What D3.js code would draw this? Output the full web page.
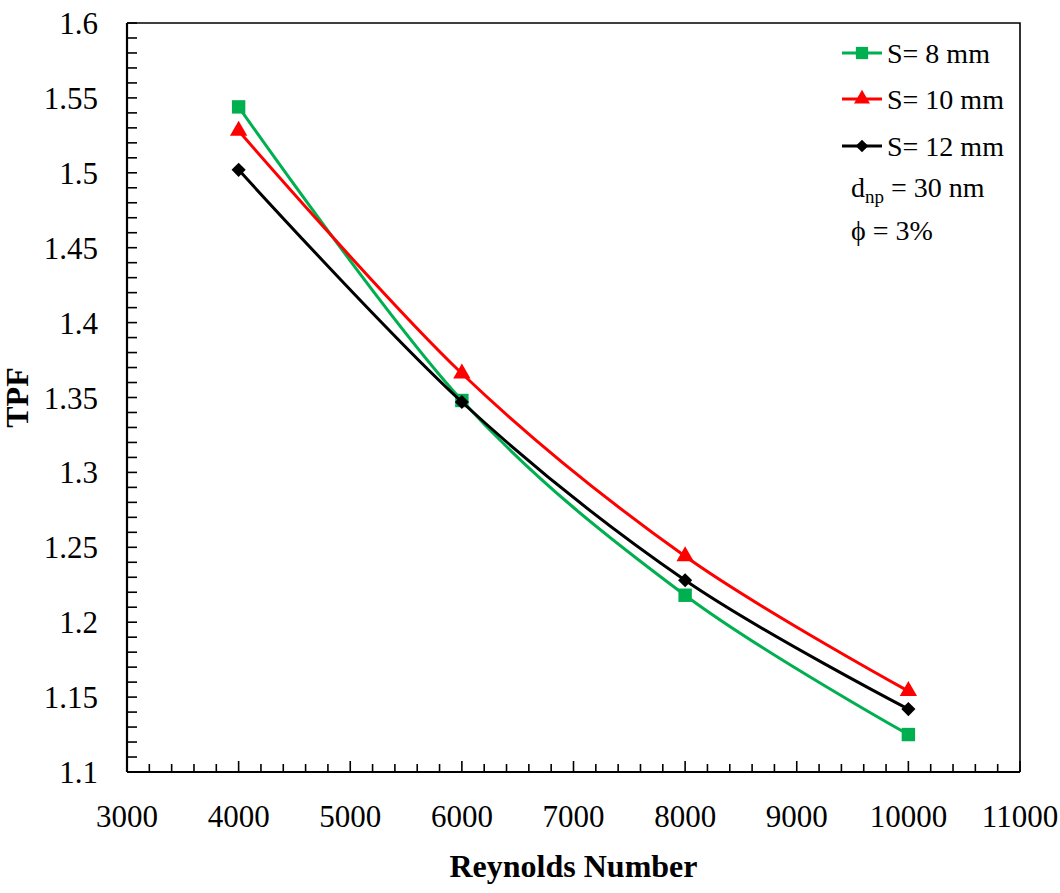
<html>
<meta charset="UTF-8">
<head>
    <title>TPF vs Reynolds</title>
    <style>
        body { margin: 0; background: #fff; }
        text { font-family: "Liberation Serif", "Times New Roman", serif; fill: #000; }
    </style>
</head>
<body>
<script src="https://d3js.org/d3.v7.min.js"></script>
<script>
    // data
    let reynolds = [4000, 6000, 8000, 10000]
    let tpf_s8 = [1.544, 1.348, 1.218, 1.125]
    let tpf_s10 = [1.528, 1.366, 1.244, 1.154]
    let tpf_s12 = [1.502, 1.347, 1.228, 1.142]
    let series_names = ["S= 8 mm", "S= 10 mm", "S= 12 mm"]
    let series_colors = ["#00B050", "#FF0000", "#000000"]
    let series_symbols = [d3.symbolSquare, d3.symbolTriangle, d3.symbolSquare]
    let series_rotate = [0, 0, 45]
    let x_ticks = [3000, 4000, 5000, 6000, 7000, 8000, 9000, 10000, 11000]
    let y_ticks = [1.1, 1.15, 1.2, 1.25, 1.3, 1.35, 1.4, 1.45, 1.5, 1.55, 1.6]

    let W = 1060, H = 893
    let plot_left = 127, plot_right = 1020, plot_top = 23, plot_bottom = 772

    let svg = d3.select("body").append("svg")
        .attr("width", W)
        .attr("height", H)

    let x = d3.scaleLinear().domain([3000, 11000]).range([plot_left, plot_right])
    let y = d3.scaleLinear().domain([1.1, 1.6]).range([plot_bottom, plot_top])

    // frame (top + right)
    svg.append("path")
        .attr("d", "M" + plot_left + "," + plot_top + "H" + plot_right + "V" + plot_bottom)
        .attr("fill", "none")
        .attr("stroke", "#000")
        .attr("stroke-width", 1.6)

    // x axis: minor ticks every 200, major every 1000, pointing inward
    let x_minor = d3.range(3000, 11001, 200)
    svg.append("g").selectAll("line")
        .data(x_minor).enter()
        .append("line")
        .attr("x1", d => x(d)).attr("x2", d => x(d))
        .attr("y1", plot_bottom)
        .attr("y2", d => plot_bottom - (d % 1000 === 0 ? 11 : 8))
        .attr("stroke", "#000").attr("stroke-width", 1.6)

    svg.append("line")
        .attr("x1", plot_left).attr("x2", plot_right)
        .attr("y1", plot_bottom).attr("y2", plot_bottom)
        .attr("stroke", "#000").attr("stroke-width", 2.2)

    svg.append("g").selectAll("text")
        .data(x_ticks).enter()
        .append("text")
        .attr("x", d => x(d))
        .attr("y", 827)
        .attr("text-anchor", "middle")
        .attr("font-size", 31)
        .text(d => d)

    // y axis: minor ticks every 0.01
    let y_minor = d3.range(0, 51).map(i => 1.1 + i * 0.01)
    svg.append("g").selectAll("line")
        .data(y_minor).enter()
        .append("line")
        .attr("x1", plot_left).attr("x2", plot_left + 10)
        .attr("y1", d => y(d)).attr("y2", d => y(d))
        .attr("stroke", "#000").attr("stroke-width", 1.6)

    svg.append("line")
        .attr("x1", plot_left).attr("x2", plot_left)
        .attr("y1", plot_top).attr("y2", plot_bottom)
        .attr("stroke", "#000").attr("stroke-width", 2.2)

    svg.append("g").selectAll("text")
        .data(y_ticks).enter()
        .append("text")
        .attr("x", 98)
        .attr("y", d => y(d) + 11)
        .attr("text-anchor", "end")
        .attr("font-size", 31)
        .text(d => String(+d.toFixed(2)))

    // axis titles
    svg.append("text")
        .attr("x", (plot_left + plot_right) / 2)
        .attr("y", 877)
        .attr("text-anchor", "middle")
        .attr("font-size", 32)
        .attr("font-weight", "bold")
        .text("Reynolds Number")

    svg.append("text")
        .attr("transform", "translate(28," + (plot_top + plot_bottom) / 2 + ") rotate(-90)")
        .attr("text-anchor", "middle")
        .attr("font-size", 32)
        .attr("font-weight", "bold")
        .text("TPF")

    // series
    let all_series = [tpf_s8, tpf_s10, tpf_s12]
    let marker_size = [180, 130, 100]
    let line = d3.line()
        .x(d => x(d[0]))
        .y(d => y(d[1]))
        .curve(d3.curveCatmullRom.alpha(0))

    all_series.forEach((vals, idx) => {
        let pts = reynolds.map((r, i) => [r, vals[i]])
        svg.append("path")
            .attr("d", line(pts))
            .attr("fill", "none")
            .attr("stroke", series_colors[idx])
            .attr("stroke-width", 3)

        let sym = d3.symbol().type(series_symbols[idx]).size(marker_size[idx])
        svg.append("g").selectAll("path")
            .data(pts).enter()
            .append("path")
            .attr("d", sym)
            .attr("transform", d => "translate(" + x(d[0]) + "," + y(d[1]) + ") rotate(" + series_rotate[idx] + ")")
            .attr("fill", series_colors[idx])
    })

    // legend
    let legend_rows = [53, 99, 146]
    let legend_marker = [150, 110, 80]
    let legend = svg.append("g")
    series_names.forEach((name, idx) => {
        let ly = legend_rows[idx]
        legend.append("line")
            .attr("x1", 842).attr("x2", 882)
            .attr("y1", ly).attr("y2", ly)
            .attr("stroke", series_colors[idx])
            .attr("stroke-width", 3)
        legend.append("path")
            .attr("d", d3.symbol().type(series_symbols[idx]).size(legend_marker[idx])())
            .attr("transform", "translate(862," + ly + ") rotate(" + series_rotate[idx] + ")")
            .attr("fill", series_colors[idx])
        legend.append("text")
            .attr("x", 887)
            .attr("y", ly + 10)
            .attr("font-size", 28)
            .text(name)
    })

    let note1 = legend.append("text")
        .attr("x", 851)
        .attr("y", 197)
        .attr("font-size", 28)
    note1.append("tspan").text("d")
    note1.append("tspan").attr("font-size", 19).attr("dy", 6).text("np")
    note1.append("tspan").attr("dy", -6).text(" = 30 nm")

    legend.append("text")
        .attr("x", 851)
        .attr("y", 240)
        .attr("font-size", 28)
        .text("\u03D5 = 3%")
</script>
</body>
</html>
